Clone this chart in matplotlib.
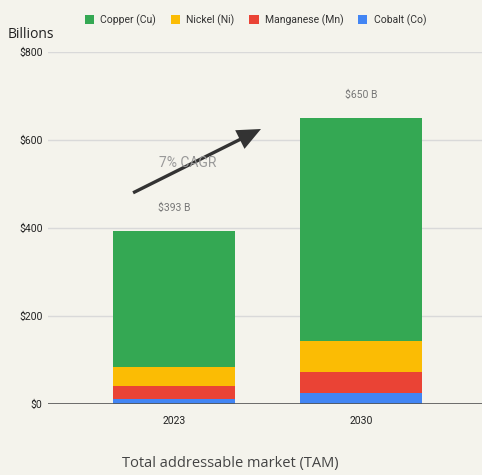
import matplotlib.pyplot as plt
from matplotlib.patches import Patch, FancyArrowPatch

# ==========================
# Data (billions USD)
# ==========================
years = ["2023", "2030"]
cobalt = [11, 25]
manganese = [30, 48]
nickel = [43, 70]
copper = [309, 507]
totals = [393, 650]
total_labels = ["$393 B", "$650 B"]

series_names = ["Copper (Cu)", "Nickel (Ni)", "Manganese (Mn)", "Cobalt (Co)"]
colors = ["#34a853", "#fbbc04", "#ea4335", "#4285f4"]

BG = "#f4f3ec"

plt.rcParams["font.family"] = ["Roboto", "DejaVu Sans"]

fig = plt.figure(figsize=(4.82, 4.75), dpi=100, facecolor=BG)
ax = fig.add_axes([48 / 482, 1 - 404 / 475, 434 / 482, 352 / 475], facecolor=BG)

x = list(range(len(years)))
width = 0.652

bottom = [0, 0]
for vals, col in zip([cobalt, manganese, nickel, copper], colors[::-1]):
    ax.bar(x, vals, width, bottom=bottom, color=col, zorder=3)
    bottom = [b + v for b, v in zip(bottom, vals)]

for xi, t, lab in zip(x, totals, total_labels):
    ax.text(xi, t + 52, lab, ha="center", va="center", fontsize=7.5, color="#777777")

# CAGR arrow
arrow = FancyArrowPatch((-0.219, 480), (0.465, 625),
                        arrowstyle="simple,head_length=1.7,head_width=1.5,tail_width=0.24",
                        mutation_scale=10, color="#333333", lw=0,
                        shrinkA=0, shrinkB=0, zorder=5)
ax.add_patch(arrow)
ax.text(0.075, 548, "7% CAGR", ha="center", va="center", fontsize=10,
        color="#999999", zorder=6)

ax.set_xlim(-0.674, 1.647)
ax.set_ylim(0, 800)
ax.set_yticks([0, 200, 400, 600, 800])
ax.set_yticklabels(["$0", "$200", "$400", "$600", "$800"])
ax.set_xticks(x)
ax.set_xticklabels(years)
ax.tick_params(axis="both", length=0, labelsize=7.5, colors="#222222")
ax.tick_params(axis="x", pad=9)
ax.tick_params(axis="y", pad=4)
ax.grid(axis="y", color="#d9d9d9", lw=1, zorder=0)
ax.axhline(0, color="#555555", lw=1.2, zorder=4)
for s in ax.spines.values():
    s.set_visible(False)

fig.text(8 / 482, 1 - 35 / 475, "Billions", fontsize=10, color="#222222",
         family=["Open Sans", "DejaVu Sans"], va="center", ha="left")
fig.text(230 / 482, 1 - 463 / 475, "Total addressable market (TAM)", fontsize=10.5,
         color="#444444", family=["Open Sans", "DejaVu Sans"], ha="center", va="center")

handles = [Patch(facecolor=c, edgecolor="none") for c in colors]
fig.legend(handles, series_names, loc="center", bbox_to_anchor=(0.53, 1 - 20 / 475),
           ncol=4, frameon=False, fontsize=7.5, handlelength=0.9, handleheight=1.0,
           handletextpad=0.6, columnspacing=1.4, labelcolor="#333333")

fig.savefig("out.png", dpi=100, facecolor=BG)
